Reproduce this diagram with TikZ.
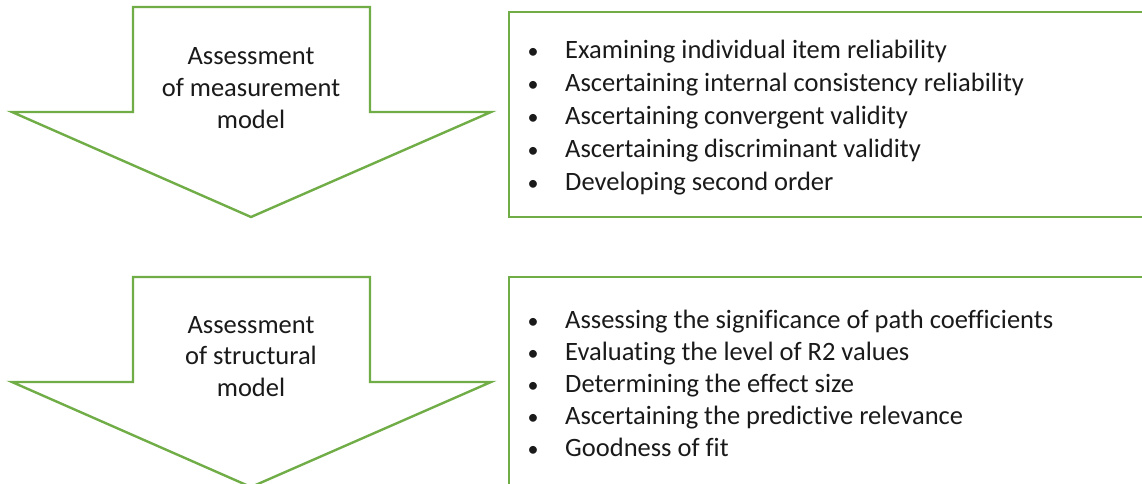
\documentclass[tikz,border=0pt]{standalone}
\usepackage{fontspec}
\setmainfont{Carlito}[Ligatures=NoCommon]
\definecolor{ogreen}{HTML}{70AD47}
\definecolor{txt}{HTML}{1A1A1A}
\begin{document}
\begin{tikzpicture}[x=1pt,y=-1pt,
  gshape/.style={draw=ogreen,line width=2.4pt,fill=white,line join=miter},
  lbl/.style={anchor=base,inner sep=0pt,text=txt,font=\fontsize{26.5}{30}\selectfont},
  item/.style={anchor=base west,inner sep=0pt,text=txt,font=\fontsize{26.5}{30}\selectfont},
  bul/.style={anchor=base,inner sep=0pt,text=txt,font=\fontsize{22}{26}\selectfont}]
\useasboundingbox (0,0) rectangle (1142,483);
% arrow 1
\draw[gshape] (133,7) -- (370,7) -- (370,112) -- (491,112) -- (251,217) -- (12,112) -- (133,112) -- cycle;
% arrow 2
\draw[gshape] (133,277) -- (370,277) -- (370,382) -- (491,382) -- (251,487) -- (12,382) -- (133,382) -- cycle;
% boxes
\draw[gshape] (1150,12) -- (509,12) -- (509,217) -- (1150,217);
\draw[gshape] (1150,277) -- (509,277) -- (509,500);
% arrow labels
\node[lbl] (a1) at (251,64) {Assessment};
\node[lbl] (a2) at (251,96) {of measurement};
\node[lbl] (a3) at (251,128) {model};
\node[lbl] (b1) at (251,333) {Assessment};
\node[lbl] (b2) at (251,364) {of structural};
\node[lbl] (b3) at (251,396) {model};
% list 1
\foreach \t [count=\i] in {Examining individual item reliability,Ascertaining internal consistency reliability,Ascertaining convergent validity,Ascertaining discriminant validity,Developing second order}{
  \node[bul] (p\i) at (533,{58+33*(\i-1)}) {\textbullet};
  \node[item] (m\i) at (565,{58+33*(\i-1)}) {\t};
}
% list 2
\foreach \t [count=\i] in {Assessing the significance of path coefficients,Evaluating the level of R2 values,Determining the effect size,Ascertaining the predictive relevance,Goodness of fit}{
  \node[bul] (q\i) at (533,{328+32.2*(\i-1)}) {\textbullet};
  \node[item] (s\i) at (565,{328+32.2*(\i-1)}) {\t};
}
\end{tikzpicture}
\end{document}
